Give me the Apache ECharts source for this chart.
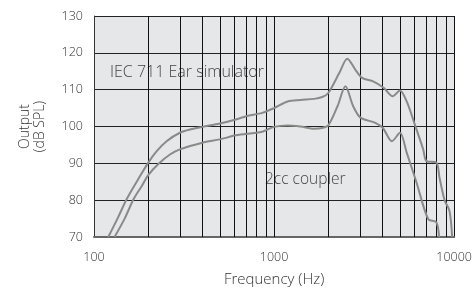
<!DOCTYPE html>
<html>
<head>
<meta charset="utf-8">
<script src="https://cdn.jsdelivr.net/npm/echarts@6/dist/echarts.min.js"></script>
<style>
    html, body { margin: 0; padding: 0; background: #fff; }
    .container { width: 475px; height: 292px; }
</style>
</head>
<body>
<div class="container"></div>
<script>
// IEC 711 ear simulator curve
const earFreq = [120, 135, 152, 175, 199, 223, 253, 300, 350, 400, 500, 613, 700, 860, 1000, 1190, 1400, 1670, 1850, 2000, 2300, 2550, 2830, 3080, 3570, 4060, 4560, 5000, 5450, 6050, 6730, 7020, 7960, 8300, 8850, 9420, 9750];
const earDb   = [70, 75, 80.3, 85.5, 90, 93.3, 96, 98.3, 99.3, 99.9, 100.8, 101.9, 102.8, 103.7, 105, 106.8, 107.2, 107.5, 108, 109.1, 114.5, 118.4, 115.4, 113.2, 112.2, 110.5, 108.2, 109.8, 106.8, 100.5, 93.8, 90.6, 90.2, 86, 80, 77.1, 70];

// 2cc coupler curve
const cplFreq = [130, 148, 166, 185, 200, 230, 264, 300, 400, 500, 613, 860, 1000, 1190, 1400, 1670, 1850, 2000, 2250, 2490, 2750, 3020, 3650, 4020, 4510, 5000, 5450, 6180, 7170, 7960, 8240];
const cplDb   = [70, 75, 80.3, 84, 86.8, 90, 92.4, 93.8, 95.6, 96.5, 97.6, 98.6, 99.9, 100.3, 100, 99.4, 99.6, 100.3, 105.5, 110.9, 105.5, 102.4, 101, 99.6, 96, 98.3, 92.9, 84.8, 74.9, 74, 70];

// minor grid lines of the log axis
const minorFreq = [200, 300, 400, 500, 600, 700, 800, 900, 1000, 2000, 3000, 4000, 5000, 6000, 7000, 8000, 9000];

const yMin = 70, yMax = 130, yStep = 10;
const xMin = 100, xMax = 10000;

(function () {
    let myChart = echarts.init(document.querySelector('.container'));

    const font = '"Open Sans", "DejaVu Sans", sans-serif';
    const curveColor = '#8a8a8a';

    const option = {
        animation: false,
        grid: {
            left: 94,
            right: 17,
            top: 16,
            bottom: 54,
            show: true,
            backgroundColor: '#e6e7e8',
            borderWidth: 0
        },
        xAxis: {
            type: 'log',
            logBase: 10,
            min: xMin,
            max: xMax,
            name: 'Frequency (Hz)',
            nameLocation: 'middle',
            nameGap: 35,
            nameTextStyle: { color: '#333', fontSize: 15, fontFamily: font, fontWeight: 300 },
            axisLine: { show: true, lineStyle: { color: '#666', width: 2 } },
            axisTick: { show: false },
            axisLabel: {
                color: '#333', fontSize: 12.5, fontFamily: font, fontWeight: 300, margin: 14, showMaxLabel: true,
                formatter: v => String(v)
            },
            splitLine: { show: true, lineStyle: { color: '#111', width: 1 } }
        },
        yAxis: {
            type: 'value',
            min: yMin,
            max: yMax,
            interval: yStep,
            name: 'Output\n(dB SPL)',
            nameLocation: 'middle',
            nameRotate: 90,
            nameGap: 46,
            nameTextStyle: { color: '#333', fontSize: 14, fontFamily: font, fontWeight: 300, lineHeight: 15, align: 'center' },
            axisLine: { show: true, onZero: false, lineStyle: { color: '#333', width: 1 } },
            axisTick: { show: false },
            axisLabel: { color: '#333', fontSize: 12.5, fontFamily: font, fontWeight: 300, margin: 11 },
            splitLine: { show: true, lineStyle: { color: '#222', width: 1 } }
        },
        graphic: [
            {
                type: 'text',
                left: 110,
                top: 64,
                style: { text: 'IEC 711 Ear simulator', fill: '#444', fontSize: 16, fontFamily: font, fontWeight: 300 }
            },
            {
                type: 'text',
                left: 265,
                top: 172,
                style: { text: '2cc coupler', fill: '#444', fontSize: 15.5, fontFamily: font, fontWeight: 300 }
            }
        ],
        series: [
            {
                type: 'line',
                data: earFreq.map((f, i) => [f, earDb[i]]),
                showSymbol: false,
                smooth: 0.3,
                lineStyle: { color: curveColor, width: 2 },
                z: 5,
                markLine: {
                    silent: true,
                    symbol: 'none',
                    label: { show: false },
                    lineStyle: { color: '#111', width: 1, type: 'solid' },
                    data: minorFreq.map(f => ({ xAxis: f }))
                }
            },
            {
                type: 'line',
                data: cplFreq.map((f, i) => [f, cplDb[i]]),
                showSymbol: false,
                smooth: 0.3,
                lineStyle: { color: curveColor, width: 2 },
                z: 5
            }
        ]
    };

    myChart.setOption(option);
})();
</script>
</body>
</html>
